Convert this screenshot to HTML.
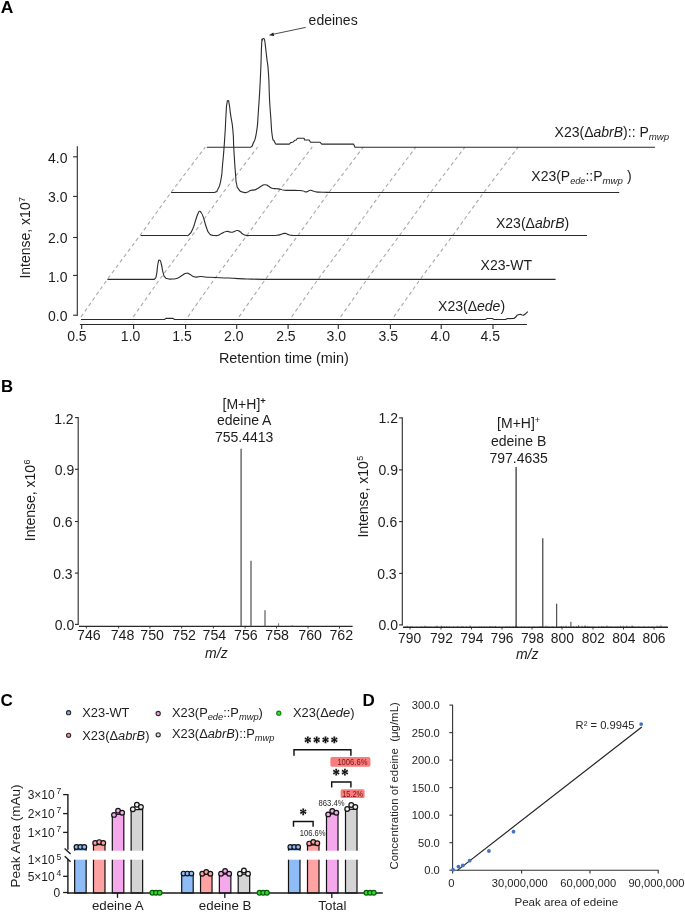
<!DOCTYPE html>
<html><head><meta charset="utf-8"><title>Figure</title>
<style>html,body{margin:0;padding:0;background:#fff}svg{display:block;will-change:transform;opacity:0.999}text{font-family:"Liberation Sans",sans-serif}</style></head>
<body>
<svg width="685" height="912" viewBox="0 0 685 912" font-family="Liberation Sans, sans-serif">
<rect width="100%" height="100%" fill="#fff"/>
<text transform="translate(0.70,13.00) scale(1.09,1)" font-size="16" font-weight="bold" fill="#000">A</text>
<text transform="translate(0.90,392.00) scale(1.05,1)" font-size="16" font-weight="bold" fill="#000">B</text>
<text transform="translate(0.60,705.90) scale(1.0,1)" font-size="17" font-weight="bold" fill="#000">C</text>
<text transform="translate(362.40,705.60) scale(1.05,1)" font-size="16.2" font-weight="bold" fill="#000">D</text>
<line x1="77.30" y1="146.30" x2="77.30" y2="315.70" stroke="#2a2a2a" stroke-width="1.1" />
<line x1="73.10" y1="156.80" x2="77.30" y2="156.80" stroke="#2a2a2a" stroke-width="1.1" />
<text x="67.50" y="163.00" font-size="14" text-anchor="end" fill="#1c1c1c" >4.0</text>
<line x1="73.10" y1="196.40" x2="77.30" y2="196.40" stroke="#2a2a2a" stroke-width="1.1" />
<text x="67.50" y="201.80" font-size="14" text-anchor="end" fill="#1c1c1c" >3.0</text>
<line x1="73.10" y1="237.50" x2="77.30" y2="237.50" stroke="#2a2a2a" stroke-width="1.1" />
<text x="67.50" y="243.20" font-size="14" text-anchor="end" fill="#1c1c1c" >2.0</text>
<line x1="73.10" y1="275.40" x2="77.30" y2="275.40" stroke="#2a2a2a" stroke-width="1.1" />
<text x="67.50" y="281.60" font-size="14" text-anchor="end" fill="#1c1c1c" >1.0</text>
<line x1="73.10" y1="315.20" x2="77.30" y2="315.20" stroke="#2a2a2a" stroke-width="1.1" />
<text x="67.50" y="321.00" font-size="14" text-anchor="end" fill="#1c1c1c" >0.0</text>
<text transform="translate(30.20,278.60) rotate(-90)" font-size="14.0" text-anchor="start" fill="#1c1c1c">Intense, x10<tspan font-size="9" dy="-5" dx="0.4">7</tspan></text>
<line x1="79.90" y1="324.45" x2="527.00" y2="324.45" stroke="#2a2a2a" stroke-width="1.1" />
<line x1="81.70" y1="324.45" x2="81.70" y2="328.95" stroke="#2a2a2a" stroke-width="1.1" />
<text x="76.90" y="341.30" font-size="14" text-anchor="middle" fill="#1c1c1c" >0.5</text>
<line x1="133.60" y1="324.45" x2="133.60" y2="328.95" stroke="#2a2a2a" stroke-width="1.1" />
<text x="130.60" y="341.30" font-size="14" text-anchor="middle" fill="#1c1c1c" >1.0</text>
<line x1="185.60" y1="324.45" x2="185.60" y2="328.95" stroke="#2a2a2a" stroke-width="1.1" />
<text x="182.00" y="341.30" font-size="14" text-anchor="middle" fill="#1c1c1c" >1.5</text>
<line x1="236.70" y1="324.45" x2="236.70" y2="328.95" stroke="#2a2a2a" stroke-width="1.1" />
<text x="233.70" y="341.30" font-size="14" text-anchor="middle" fill="#1c1c1c" >2.0</text>
<line x1="288.10" y1="324.45" x2="288.10" y2="328.95" stroke="#2a2a2a" stroke-width="1.1" />
<text x="285.90" y="341.30" font-size="14" text-anchor="middle" fill="#1c1c1c" >2.5</text>
<line x1="338.30" y1="324.45" x2="338.30" y2="328.95" stroke="#2a2a2a" stroke-width="1.1" />
<text x="336.20" y="341.30" font-size="14" text-anchor="middle" fill="#1c1c1c" >3.0</text>
<line x1="390.40" y1="324.45" x2="390.40" y2="328.95" stroke="#2a2a2a" stroke-width="1.1" />
<text x="388.20" y="341.30" font-size="14" text-anchor="middle" fill="#1c1c1c" >3.5</text>
<line x1="441.20" y1="324.45" x2="441.20" y2="328.95" stroke="#2a2a2a" stroke-width="1.1" />
<text x="440.30" y="341.30" font-size="14" text-anchor="middle" fill="#1c1c1c" >4.0</text>
<line x1="493.00" y1="324.45" x2="493.00" y2="328.95" stroke="#2a2a2a" stroke-width="1.1" />
<text x="490.20" y="341.30" font-size="14" text-anchor="middle" fill="#1c1c1c" >4.5</text>
<text x="283.90" y="362.60" font-size="14.45" text-anchor="middle" fill="#1c1c1c" >Retention time (min)</text>
<path d="M81.00,316.90 L107.30,279.40 L140.20,235.20 L171.00,192.40 L205.30,147.10" fill="none" stroke="#a9a9a9" stroke-width="1.1" stroke-linejoin="round" stroke-dasharray="3.7,3.0"/>
<path d="M133.30,316.90 L159.60,279.40 L192.50,235.20 L223.30,192.40 L257.60,147.10" fill="none" stroke="#a9a9a9" stroke-width="1.1" stroke-linejoin="round" stroke-dasharray="3.7,3.0"/>
<path d="M187.90,316.90 L214.20,279.40 L247.10,235.20 L277.90,192.40 L312.20,147.10" fill="none" stroke="#a9a9a9" stroke-width="1.1" stroke-linejoin="round" stroke-dasharray="3.7,3.0"/>
<path d="M239.00,316.90 L265.30,279.40 L298.20,235.20 L329.00,192.40 L363.30,147.10" fill="none" stroke="#a9a9a9" stroke-width="1.1" stroke-linejoin="round" stroke-dasharray="3.7,3.0"/>
<path d="M291.60,316.90 L317.90,279.40 L350.80,235.20 L381.60,192.40 L415.90,147.10" fill="none" stroke="#a9a9a9" stroke-width="1.1" stroke-linejoin="round" stroke-dasharray="3.7,3.0"/>
<path d="M340.60,316.90 L366.90,279.40 L399.80,235.20 L430.60,192.40 L464.90,147.10" fill="none" stroke="#a9a9a9" stroke-width="1.1" stroke-linejoin="round" stroke-dasharray="3.7,3.0"/>
<path d="M393.80,316.90 L420.10,279.40 L453.00,235.20 L483.80,192.40 L518.10,147.10" fill="none" stroke="#a9a9a9" stroke-width="1.1" stroke-linejoin="round" stroke-dasharray="3.7,3.0"/>
<path d="M81.00,319.50 L81.50,319.50 L82.00,319.50 L82.50,319.50 L83.00,319.50 L83.50,319.50 L84.00,319.50 L84.50,319.50 L85.00,319.50 L85.50,319.50 L86.00,319.50 L86.50,319.50 L87.00,319.50 L87.50,319.50 L88.00,319.50 L88.50,319.50 L89.00,319.50 L89.50,319.50 L90.00,319.50 L90.50,319.50 L91.00,319.50 L91.50,319.50 L92.00,319.50 L92.50,319.50 L93.00,319.50 L93.50,319.50 L94.00,319.50 L94.50,319.50 L95.00,319.50 L95.50,319.50 L96.00,319.50 L96.50,319.50 L97.00,319.50 L97.50,319.50 L98.00,319.50 L98.50,319.50 L99.00,319.50 L99.50,319.50 L100.00,319.50 L100.50,319.50 L101.00,319.50 L101.50,319.50 L102.00,319.50 L102.50,319.50 L103.00,319.50 L103.50,319.50 L104.00,319.50 L104.50,319.50 L105.00,319.50 L105.50,319.50 L106.00,319.50 L106.50,319.50 L107.00,319.50 L107.50,319.50 L108.00,319.50 L108.50,319.50 L109.00,319.50 L109.50,319.50 L110.00,319.50 L110.50,319.50 L111.00,319.50 L111.50,319.50 L112.00,319.50 L112.50,319.50 L113.00,319.50 L113.50,319.50 L114.00,319.50 L114.50,319.50 L115.00,319.50 L115.50,319.50 L116.00,319.50 L116.50,319.50 L117.00,319.50 L117.50,319.50 L118.00,319.50 L118.50,319.50 L119.00,319.50 L119.50,319.50 L120.00,319.50 L120.50,319.50 L121.00,319.50 L121.50,319.50 L122.00,319.50 L122.50,319.50 L123.00,319.50 L123.50,319.50 L124.00,319.50 L124.50,319.50 L125.00,319.50 L125.50,319.50 L126.00,319.50 L126.50,319.50 L127.00,319.50 L127.50,319.50 L128.00,319.50 L128.50,319.50 L129.00,319.50 L129.50,319.50 L130.00,319.50 L130.50,319.50 L131.00,319.50 L131.50,319.50 L132.00,319.50 L132.50,319.50 L133.00,319.50 L133.50,319.50 L134.00,319.50 L134.50,319.50 L135.00,319.50 L135.50,319.50 L136.00,319.50 L136.50,319.50 L137.00,319.50 L137.50,319.50 L138.00,319.50 L138.50,319.50 L139.00,319.50 L139.50,319.50 L140.00,319.50 L140.50,319.50 L141.00,319.50 L141.50,319.50 L142.00,319.50 L142.50,319.50 L143.00,319.50 L143.50,319.50 L144.00,319.50 L144.50,319.50 L145.00,319.50 L145.50,319.50 L146.00,319.50 L146.50,319.50 L147.00,319.50 L147.50,319.50 L148.00,319.50 L148.50,319.50 L149.00,319.50 L149.50,319.50 L150.00,319.50 L150.50,319.50 L151.00,319.50 L151.50,319.50 L152.00,319.50 L152.50,319.50 L153.00,319.50 L153.50,319.50 L154.00,319.50 L154.50,319.50 L155.00,319.50 L155.50,319.50 L156.00,319.50 L156.50,319.50 L157.00,319.50 L157.50,319.50 L158.00,319.50 L158.50,319.50 L159.00,319.50 L159.50,319.50 L160.00,319.50 L160.50,319.50 L161.00,319.50 L161.50,319.50 L162.00,319.50 L162.50,319.50 L163.00,319.50 L163.50,319.50 L164.00,319.50 L164.50,319.50 L165.00,319.12 L165.50,318.73 L166.00,318.35 L166.50,318.35 L167.00,318.35 L167.50,318.35 L168.00,318.35 L168.50,318.35 L169.00,318.35 L169.50,318.35 L170.00,318.35 L170.50,318.35 L171.00,318.35 L171.50,318.35 L172.00,318.35 L172.50,318.35 L173.00,318.35 L173.50,318.73 L174.00,319.12 L174.50,319.50 L175.00,319.50 L175.50,319.50 L176.00,319.50 L176.50,319.50 L177.00,319.50 L177.50,319.50 L178.00,319.50 L178.50,319.50 L179.00,319.50 L179.50,319.50 L180.00,319.50 L180.50,319.50 L181.00,319.50 L181.50,319.50 L182.00,319.50 L182.50,319.50 L183.00,319.50 L183.50,319.50 L184.00,319.50 L184.50,319.50 L185.00,319.50 L185.50,319.50 L186.00,319.50 L186.50,319.50 L187.00,319.50 L187.50,319.50 L188.00,319.50 L188.50,319.50 L189.00,319.50 L189.50,319.50 L190.00,319.50 L190.50,319.50 L191.00,319.50 L191.50,319.50 L192.00,319.50 L192.50,319.50 L193.00,319.50 L193.50,319.50 L194.00,319.50 L194.50,319.50 L195.00,319.50 L195.50,319.50 L196.00,319.50 L196.50,319.50 L197.00,319.50 L197.50,319.50 L198.00,319.50 L198.50,319.50 L199.00,319.50 L199.50,319.50 L200.00,319.50 L200.50,319.50 L201.00,319.50 L201.50,319.50 L202.00,319.50 L202.50,319.50 L203.00,319.50 L203.50,319.50 L204.00,319.50 L204.50,319.50 L205.00,319.50 L205.50,319.50 L206.00,319.50 L206.50,319.50 L207.00,319.50 L207.50,319.50 L208.00,319.50 L208.50,319.50 L209.00,319.50 L209.50,319.50 L210.00,319.50 L210.50,319.50 L211.00,319.50 L211.50,319.50 L212.00,319.50 L212.50,319.50 L213.00,319.50 L213.50,319.50 L214.00,319.50 L214.50,319.50 L215.00,319.50 L215.50,319.50 L216.00,319.50 L216.50,319.50 L217.00,319.50 L217.50,319.50 L218.00,319.50 L218.50,319.50 L219.00,319.50 L219.50,319.50 L220.00,319.50 L220.50,319.50 L221.00,319.50 L221.50,319.50 L222.00,319.50 L222.50,319.50 L223.00,319.50 L223.50,319.50 L224.00,319.50 L224.50,319.50 L225.00,319.50 L225.50,319.50 L226.00,319.50 L226.50,319.50 L227.00,319.50 L227.50,319.50 L228.00,319.50 L228.50,319.50 L229.00,319.50 L229.50,319.50 L230.00,319.50 L230.50,319.50 L231.00,319.50 L231.50,319.50 L232.00,319.50 L232.50,319.50 L233.00,319.50 L233.50,319.50 L234.00,319.50 L234.50,319.50 L235.00,319.50 L235.50,319.50 L236.00,319.50 L236.50,319.50 L237.00,319.50 L237.50,319.50 L238.00,319.50 L238.50,319.50 L239.00,319.50 L239.50,319.50 L240.00,319.50 L240.50,319.50 L241.00,319.50 L241.50,319.50 L242.00,319.50 L242.50,319.50 L243.00,319.50 L243.50,319.50 L244.00,319.50 L244.50,319.50 L245.00,319.50 L245.50,319.50 L246.00,319.50 L246.50,319.50 L247.00,319.50 L247.50,319.50 L248.00,319.50 L248.50,319.50 L249.00,319.50 L249.50,319.50 L250.00,319.50 L250.50,319.50 L251.00,319.50 L251.50,319.50 L252.00,319.50 L252.50,319.50 L253.00,319.50 L253.50,319.50 L254.00,319.50 L254.50,319.50 L255.00,319.50 L255.50,319.50 L256.00,319.50 L256.50,319.50 L257.00,319.50 L257.50,319.50 L258.00,319.50 L258.50,319.50 L259.00,319.50 L259.50,319.50 L260.00,319.50 L260.50,319.50 L261.00,319.50 L261.50,319.50 L262.00,319.50 L262.50,319.50 L263.00,319.50 L263.50,319.50 L264.00,319.50 L264.50,319.50 L265.00,319.50 L265.50,319.50 L266.00,319.50 L266.50,319.50 L267.00,319.50 L267.50,319.50 L268.00,319.50 L268.50,319.50 L269.00,319.50 L269.50,319.50 L270.00,319.50 L270.50,319.50 L271.00,319.50 L271.50,319.50 L272.00,319.50 L272.50,319.50 L273.00,319.50 L273.50,319.50 L274.00,319.50 L274.50,319.50 L275.00,319.50 L275.50,319.50 L276.00,319.50 L276.50,319.50 L277.00,319.50 L277.50,319.50 L278.00,319.50 L278.50,319.50 L279.00,319.50 L279.50,319.50 L280.00,319.50 L280.50,319.50 L281.00,319.50 L281.50,319.50 L282.00,319.50 L282.50,319.50 L283.00,319.50 L283.50,319.50 L284.00,319.50 L284.50,319.50 L285.00,319.50 L285.50,319.50 L286.00,319.50 L286.50,319.50 L287.00,319.50 L287.50,319.50 L288.00,319.50 L288.50,319.50 L289.00,319.50 L289.50,319.50 L290.00,319.50 L290.50,319.50 L291.00,319.50 L291.50,319.50 L292.00,319.50 L292.50,319.50 L293.00,319.50 L293.50,319.50 L294.00,319.50 L294.50,319.50 L295.00,319.50 L295.50,319.50 L296.00,319.50 L296.50,319.50 L297.00,319.50 L297.50,319.50 L298.00,319.50 L298.50,319.50 L299.00,319.50 L299.50,319.50 L300.00,319.50 L300.50,319.50 L301.00,319.50 L301.50,319.50 L302.00,319.50 L302.50,319.50 L303.00,319.50 L303.50,319.50 L304.00,319.50 L304.50,319.50 L305.00,319.50 L305.50,319.50 L306.00,319.50 L306.50,319.50 L307.00,319.50 L307.50,319.50 L308.00,319.50 L308.50,319.50 L309.00,319.50 L309.50,319.50 L310.00,319.50 L310.50,319.50 L311.00,319.50 L311.50,319.50 L312.00,319.50 L312.50,319.50 L313.00,319.50 L313.50,319.50 L314.00,319.50 L314.50,319.50 L315.00,319.50 L315.50,319.50 L316.00,319.50 L316.50,319.50 L317.00,319.50 L317.50,319.50 L318.00,319.50 L318.50,319.50 L319.00,319.50 L319.50,319.50 L320.00,319.50 L320.50,319.50 L321.00,319.50 L321.50,319.50 L322.00,319.50 L322.50,319.50 L323.00,319.50 L323.50,319.50 L324.00,319.50 L324.50,319.50 L325.00,319.50 L325.50,319.50 L326.00,319.50 L326.50,319.50 L327.00,319.50 L327.50,319.50 L328.00,319.50 L328.50,319.50 L329.00,319.50 L329.50,319.50 L330.00,319.50 L330.50,319.50 L331.00,319.50 L331.50,319.50 L332.00,319.50 L332.50,319.50 L333.00,319.50 L333.50,319.50 L334.00,319.50 L334.50,319.50 L335.00,319.50 L335.50,319.50 L336.00,319.50 L336.50,319.50 L337.00,319.50 L337.50,319.50 L338.00,319.50 L338.50,319.50 L339.00,319.50 L339.50,319.50 L340.00,319.50 L340.50,319.50 L341.00,319.50 L341.50,319.50 L342.00,319.50 L342.50,319.50 L343.00,319.50 L343.50,319.50 L344.00,319.50 L344.50,319.50 L345.00,319.50 L345.50,319.50 L346.00,319.50 L346.50,319.50 L347.00,319.50 L347.50,319.50 L348.00,319.50 L348.50,319.50 L349.00,319.50 L349.50,319.50 L350.00,319.50 L350.50,319.50 L351.00,319.50 L351.50,319.50 L352.00,319.50 L352.50,319.50 L353.00,319.50 L353.50,319.50 L354.00,319.50 L354.50,319.50 L355.00,319.50 L355.50,319.50 L356.00,319.50 L356.50,319.50 L357.00,319.50 L357.50,319.50 L358.00,319.50 L358.50,319.50 L359.00,319.50 L359.50,319.50 L360.00,319.50 L360.50,319.50 L361.00,319.50 L361.50,319.50 L362.00,319.50 L362.50,319.50 L363.00,319.50 L363.50,319.50 L364.00,319.50 L364.50,319.50 L365.00,319.50 L365.50,319.50 L366.00,319.50 L366.50,319.50 L367.00,319.50 L367.50,319.50 L368.00,319.50 L368.50,319.50 L369.00,319.50 L369.50,319.50 L370.00,319.50 L370.50,319.50 L371.00,319.50 L371.50,319.50 L372.00,319.50 L372.50,319.50 L373.00,319.50 L373.50,319.50 L374.00,319.50 L374.50,319.50 L375.00,319.50 L375.50,319.50 L376.00,319.50 L376.50,319.50 L377.00,319.50 L377.50,319.50 L378.00,319.50 L378.50,319.50 L379.00,319.50 L379.50,319.50 L380.00,319.50 L380.50,319.50 L381.00,319.50 L381.50,319.50 L382.00,319.50 L382.50,319.50 L383.00,319.50 L383.50,319.50 L384.00,319.50 L384.50,319.50 L385.00,319.50 L385.50,319.50 L386.00,319.50 L386.50,319.50 L387.00,319.50 L387.50,319.50 L388.00,319.50 L388.50,319.50 L389.00,319.50 L389.50,319.50 L390.00,319.50 L390.50,319.50 L391.00,319.50 L391.50,319.50 L392.00,319.50 L392.50,319.50 L393.00,319.50 L393.50,319.50 L394.00,319.50 L394.50,319.50 L395.00,319.50 L395.50,319.50 L396.00,319.50 L396.50,319.50 L397.00,319.50 L397.50,319.50 L398.00,319.50 L398.50,319.50 L399.00,319.50 L399.50,319.50 L400.00,319.50 L400.50,319.50 L401.00,319.50 L401.50,319.50 L402.00,319.50 L402.50,319.50 L403.00,319.50 L403.50,319.50 L404.00,319.50 L404.50,319.50 L405.00,319.50 L405.50,319.50 L406.00,319.50 L406.50,319.50 L407.00,319.50 L407.50,319.50 L408.00,319.50 L408.50,319.50 L409.00,319.50 L409.50,319.50 L410.00,319.50 L410.50,319.50 L411.00,319.50 L411.50,319.50 L412.00,319.50 L412.50,319.50 L413.00,319.50 L413.50,319.50 L414.00,319.50 L414.50,319.50 L415.00,319.50 L415.50,319.50 L416.00,319.50 L416.50,319.50 L417.00,319.50 L417.50,319.50 L418.00,319.50 L418.50,319.50 L419.00,319.50 L419.50,319.50 L420.00,319.50 L420.50,319.50 L421.00,319.50 L421.50,319.50 L422.00,319.50 L422.50,319.50 L423.00,319.50 L423.50,319.50 L424.00,319.50 L424.50,319.50 L425.00,319.50 L425.50,319.50 L426.00,319.50 L426.50,319.50 L427.00,319.50 L427.50,319.50 L428.00,319.50 L428.50,319.50 L429.00,319.50 L429.50,319.50 L430.00,319.50 L430.50,319.50 L431.00,319.50 L431.50,319.50 L432.00,319.50 L432.50,319.50 L433.00,319.50 L433.50,319.50 L434.00,319.50 L434.50,319.50 L435.00,319.50 L435.50,319.50 L436.00,319.50 L436.50,319.50 L437.00,319.50 L437.50,319.50 L438.00,319.50 L438.50,319.50 L439.00,319.50 L439.50,319.50 L440.00,319.50 L440.50,319.50 L441.00,319.50 L441.50,319.50 L442.00,319.50 L442.50,319.50 L443.00,319.50 L443.50,319.50 L444.00,319.50 L444.50,319.50 L445.00,319.50 L445.50,319.50 L446.00,319.50 L446.50,319.50 L447.00,319.50 L447.50,319.50 L448.00,319.50 L448.50,319.50 L449.00,319.50 L449.50,319.50 L450.00,319.50 L450.50,319.50 L451.00,319.50 L451.50,319.50 L452.00,319.50 L452.50,319.50 L453.00,319.50 L453.50,319.50 L454.00,319.50 L454.50,319.50 L455.00,319.50 L455.50,319.50 L456.00,319.50 L456.50,319.50 L457.00,319.50 L457.50,319.50 L458.00,319.50 L458.50,319.50 L459.00,319.50 L459.50,319.50 L460.00,319.50 L460.50,319.50 L461.00,319.50 L461.50,319.50 L462.00,319.50 L462.50,319.50 L463.00,319.50 L463.50,319.50 L464.00,319.50 L464.50,319.50 L465.00,319.50 L465.50,319.50 L466.00,319.50 L466.50,319.50 L467.00,319.50 L467.50,319.50 L468.00,319.50 L468.50,319.50 L469.00,319.50 L469.50,319.50 L470.00,319.50 L470.50,319.50 L471.00,319.50 L471.50,319.50 L472.00,319.50 L472.50,319.50 L473.00,319.50 L473.50,319.50 L474.00,319.50 L474.50,319.50 L475.00,319.50 L475.50,319.50 L476.00,319.50 L476.50,319.50 L477.00,319.50 L477.50,319.50 L478.00,319.50 L478.50,319.50 L479.00,319.50 L479.50,319.50 L480.00,319.50 L480.50,319.50 L481.00,319.50 L481.50,319.50 L482.00,319.50 L482.50,319.50 L483.00,319.50 L483.50,319.50 L484.00,319.50 L484.50,319.50 L485.00,319.50 L485.50,319.50 L486.00,319.33 L486.50,318.92 L487.00,318.50 L487.50,318.50 L488.00,318.50 L488.50,318.50 L489.00,318.50 L489.50,318.50 L490.00,318.50 L490.50,318.50 L491.00,318.50 L491.50,318.50 L492.00,318.50 L492.50,318.50 L493.00,318.88 L493.50,319.27 L494.00,319.50 L494.50,319.50 L495.00,319.50 L495.50,319.50 L496.00,319.50 L496.50,319.50 L497.00,319.50 L497.50,319.50 L498.00,319.50 L498.50,319.50 L499.00,319.50 L499.50,319.50 L500.00,319.50 L500.50,319.50 L501.00,319.50 L501.50,319.50 L502.00,319.50 L502.50,319.50 L503.00,319.50 L503.50,319.50 L504.00,319.50 L504.50,319.50 L505.00,319.50 L505.80,319.50 L507.00,318.60 L514.00,318.50 L515.50,317.30 L517.00,315.30 L518.50,314.70 L520.50,314.30 L522.00,315.00 L523.50,315.30 L525.00,314.30 L526.50,312.90 L527.80,311.70" fill="none" stroke="#2a2a2a" stroke-width="1.1" stroke-linejoin="round" />
<path d="M107.40,279.40 L153.20,279.40 L153.20,279.40 C153.87,279.07 154.07,280.13 155.20,278.40 C156.33,276.67 155.67,279.17 156.60,274.20 C157.53,269.23 157.00,268.13 158.00,263.50 C159.00,258.87 158.50,260.13 159.60,260.30 C160.70,260.47 160.10,259.70 161.30,264.00 C162.50,268.30 161.90,268.73 163.20,273.20 C164.50,277.67 163.60,275.57 165.20,277.40 C166.80,279.23 165.73,278.17 168.00,278.70 C170.27,279.23 168.87,279.17 172.00,279.00 C175.13,278.83 174.07,279.40 177.40,278.20 C180.73,277.00 178.93,277.07 182.00,275.40 C185.07,273.73 183.87,273.47 186.60,273.20 C189.33,272.93 187.43,273.33 190.20,274.60 C192.97,275.87 191.40,276.37 194.90,277.00 C198.40,277.63 195.63,276.40 200.70,276.50 C205.77,276.60 200.73,276.80 210.10,277.30 C219.47,277.80 219.47,277.57 228.80,278.00 C238.13,278.43 230.33,278.23 238.10,278.60 C245.87,278.97 242.77,278.83 252.10,279.10 C261.43,279.37 261.43,279.30 266.10,279.40 L266.10,279.40 L555.60,279.40" fill="none" stroke="#2a2a2a" stroke-width="1.1" stroke-linejoin="round" stroke-linecap="butt"/>
<path d="M140.80,235.50 L186.50,235.50 L186.50,235.50 C187.33,235.20 186.97,236.70 189.00,234.60 C191.03,232.50 190.23,234.50 192.60,229.20 C194.97,223.90 194.23,224.03 196.10,218.70 C197.97,213.37 197.03,215.67 198.20,213.20 C199.37,210.73 198.60,211.43 199.60,211.30 C200.60,211.17 200.03,211.03 201.20,212.80 C202.37,214.57 201.30,211.53 203.10,216.60 C204.90,221.67 204.63,222.53 206.60,228.00 C208.57,233.47 207.37,230.67 209.00,233.00 C210.63,235.33 209.50,234.17 211.50,235.00 C213.50,235.83 212.67,235.43 215.00,235.50 C217.33,235.57 216.23,235.93 218.50,235.20 C220.77,234.47 219.17,234.53 221.80,233.30 C224.43,232.07 223.83,231.97 226.40,231.50 C228.97,231.03 227.53,231.67 229.50,231.90 C231.47,232.13 230.47,232.43 232.30,232.20 C234.13,231.97 233.23,231.77 235.00,231.20 C236.77,230.63 235.87,230.30 237.60,230.50 C239.33,230.70 238.47,230.63 240.20,231.80 C241.93,232.97 240.77,232.80 242.80,234.00 C244.83,235.20 243.90,234.90 246.30,235.40 C248.70,235.90 248.77,235.47 250.00,235.50 L250.00,235.50 L275.50,235.50 L275.50,235.50 C277.07,235.20 277.23,235.30 280.20,234.60 C283.17,233.90 282.13,233.60 284.40,233.40 C286.67,233.20 285.30,233.47 287.00,234.00 C288.70,234.53 287.50,234.50 289.50,235.00 C291.50,235.50 291.83,235.33 293.00,235.50 L293.00,235.50 L587.00,235.50" fill="none" stroke="#2a2a2a" stroke-width="1.1" stroke-linejoin="round" stroke-linecap="butt"/>
<path d="M171.10,192.50 L213.80,192.50 L213.80,192.50 C214.53,192.27 214.70,192.77 216.00,191.80 C217.30,190.83 216.10,193.40 217.70,189.60 C219.30,185.80 219.13,189.17 220.80,180.40 C222.47,171.63 221.40,177.30 222.70,163.30 C224.00,149.30 223.60,154.60 224.70,138.40 C225.80,122.20 225.30,126.03 226.00,114.70 C226.70,103.37 226.13,109.00 226.80,104.40 C227.47,99.80 227.20,101.03 228.00,100.90 C228.80,100.77 228.33,99.40 229.20,104.00 C230.07,108.60 229.37,105.87 230.60,114.70 C231.83,123.53 231.80,118.67 232.90,130.50 C234.00,142.33 233.03,135.77 233.90,150.20 C234.77,164.63 234.60,162.53 235.50,173.80 C236.40,185.07 235.60,178.97 236.60,184.00 C237.60,189.03 236.57,186.20 238.50,188.90 C240.43,191.60 239.33,191.07 242.40,192.10 C245.47,193.13 245.07,192.57 247.70,192.00 C250.33,191.43 248.10,191.10 250.30,190.40 C252.50,189.70 251.87,190.50 254.30,189.90 C256.73,189.30 255.20,189.93 257.60,188.60 C260.00,187.27 258.90,187.20 261.50,185.90 C264.10,184.60 263.00,184.57 265.40,184.70 C267.80,184.83 266.50,185.13 268.70,186.30 C270.90,187.47 269.37,187.40 272.00,188.20 C274.63,189.00 273.77,188.33 276.60,188.70 C279.43,189.07 277.87,188.80 280.50,189.30 C283.13,189.80 279.67,189.83 284.50,190.20 C289.33,190.57 289.13,190.23 295.00,190.40 C300.87,190.57 298.57,190.20 302.10,190.70 C305.63,191.20 303.63,191.73 305.60,191.90 C307.57,192.07 306.43,191.73 308.00,191.20 C309.57,190.67 308.63,190.37 310.30,190.30 C311.97,190.23 311.07,190.47 313.00,191.00 C314.93,191.53 313.10,191.50 316.10,191.90 C319.10,192.30 317.30,192.00 322.00,192.20 C326.70,192.40 327.47,192.40 330.20,192.50 L330.20,192.50 L619.20,192.50" fill="none" stroke="#2a2a2a" stroke-width="1.1" stroke-linejoin="round" stroke-linecap="butt"/>
<path d="M206.80,147.30 L250.40,147.30 L250.40,147.30 C250.87,146.97 250.93,147.50 251.80,146.30 C252.67,145.10 251.47,148.23 253.00,143.70 C254.53,139.17 254.57,144.10 256.40,132.70 C258.23,121.30 257.13,128.67 258.50,109.50 C259.87,90.33 259.47,96.67 260.50,75.20 C261.53,53.73 260.97,56.77 261.60,45.10 C262.23,33.43 261.73,42.40 262.40,40.20 C263.07,38.00 262.87,38.43 263.60,38.50 C264.33,38.57 264.03,38.20 264.60,40.40 C265.17,42.60 264.60,39.43 265.30,45.10 C266.00,50.77 265.63,47.83 266.70,57.40 C267.77,66.97 267.57,60.10 268.50,73.80 C269.43,87.50 268.73,83.87 269.50,98.50 C270.27,113.13 269.90,105.37 270.80,117.70 C271.70,130.03 271.07,127.73 272.20,135.50 C273.33,143.27 273.00,138.13 274.20,141.00 C275.40,143.87 275.27,143.07 275.80,144.10 L275.80,144.10 L289.30,144.10 L290.70,142.60 L292.60,142.30 L294.80,140.30 L296.20,140.00 L297.50,138.20 L304.10,138.20 L304.50,140.00 L309.20,140.00 L310.50,142.30 L320.10,142.30 L321.80,144.10 L353.60,144.10 L355.00,147.30 L655.10,147.30" fill="none" stroke="#2a2a2a" stroke-width="1.1" stroke-linejoin="round" stroke-linecap="butt"/>
<line x1="305.70" y1="27.40" x2="272.50" y2="34.40" stroke="#2a2a2a" stroke-width="0.85" />
<path d="M268.9,35.25 L273.3,32.4 L274.1,36.1 Z" fill="#1c1c1c"/>
<text x="308.60" y="25.10" font-size="14" text-anchor="start" fill="#1c1c1c" >edeines</text>
<text x="554.60" y="137.00" font-size="14" text-anchor="start" fill="#1c1c1c" >X23(&#916;<tspan font-style="italic">abrB</tspan>):: P<tspan font-style="italic" font-size="9.7" dy="3.4">mwp</tspan></text>
<text x="531.30" y="180.60" font-size="14" text-anchor="start" fill="#1c1c1c" >X23(P<tspan font-style="italic" font-size="9.1" dy="3.4">ede</tspan><tspan dy="-3.4">::P</tspan><tspan font-style="italic" font-size="9.7" dy="3.4">mwp</tspan><tspan dy="-3.4"> )</tspan></text>
<text x="496.00" y="228.20" font-size="14" text-anchor="start" fill="#1c1c1c" >X23(&#916;<tspan font-style="italic">abrB</tspan>)</text>
<text x="480.60" y="270.10" font-size="14" text-anchor="start" fill="#1c1c1c" >X23-WT</text>
<text x="438.10" y="310.80" font-size="14" text-anchor="start" fill="#1c1c1c" >X23(&#916;<tspan font-style="italic">ede</tspan>)</text>
<line x1="78.20" y1="417.10" x2="78.20" y2="624.90" stroke="#2a2a2a" stroke-width="1.1" />
<line x1="79.00" y1="626.30" x2="352.60" y2="626.30" stroke="#2a2a2a" stroke-width="1.2" />
<line x1="75.00" y1="417.60" x2="78.20" y2="417.60" stroke="#2a2a2a" stroke-width="1.1" />
<text x="73.60" y="423.50" font-size="14" text-anchor="end" fill="#1c1c1c" >1.2</text>
<line x1="75.00" y1="469.30" x2="78.20" y2="469.30" stroke="#2a2a2a" stroke-width="1.1" />
<text x="74.20" y="475.20" font-size="14" text-anchor="end" fill="#1c1c1c" >0.9</text>
<line x1="75.00" y1="521.50" x2="78.20" y2="521.50" stroke="#2a2a2a" stroke-width="1.1" />
<text x="72.50" y="527.40" font-size="14" text-anchor="end" fill="#1c1c1c" >0.6</text>
<line x1="75.00" y1="573.10" x2="78.20" y2="573.10" stroke="#2a2a2a" stroke-width="1.1" />
<text x="72.60" y="579.00" font-size="14" text-anchor="end" fill="#1c1c1c" >0.3</text>
<line x1="75.00" y1="624.40" x2="78.20" y2="624.40" stroke="#2a2a2a" stroke-width="1.1" />
<text x="74.20" y="630.30" font-size="14" text-anchor="end" fill="#1c1c1c" >0.0</text>
<text transform="translate(35.00,541.20) rotate(-90)" font-size="14.03" text-anchor="start" fill="#1c1c1c">Intense, x10<tspan font-size="9" dy="-5" dx="0.4">6</tspan></text>
<text x="88.90" y="640.20" font-size="14.2" text-anchor="middle" fill="#1c1c1c" >746</text>
<text x="122.50" y="640.20" font-size="14.2" text-anchor="middle" fill="#1c1c1c" >748</text>
<text x="152.10" y="640.20" font-size="14.2" text-anchor="middle" fill="#1c1c1c" >750</text>
<text x="184.10" y="640.20" font-size="14.2" text-anchor="middle" fill="#1c1c1c" >752</text>
<text x="214.40" y="640.20" font-size="14.2" text-anchor="middle" fill="#1c1c1c" >754</text>
<text x="245.90" y="640.20" font-size="14.2" text-anchor="middle" fill="#1c1c1c" >756</text>
<text x="277.10" y="640.20" font-size="14.2" text-anchor="middle" fill="#1c1c1c" >758</text>
<text x="310.10" y="640.20" font-size="14.2" text-anchor="middle" fill="#1c1c1c" >760</text>
<text x="341.30" y="640.20" font-size="14.2" text-anchor="middle" fill="#1c1c1c" >762</text>
<line x1="86.40" y1="626.30" x2="86.40" y2="628.50" stroke="#2a2a2a" stroke-width="0.9" />
<line x1="118.60" y1="626.30" x2="118.60" y2="628.50" stroke="#2a2a2a" stroke-width="0.9" />
<line x1="149.90" y1="626.30" x2="149.90" y2="628.50" stroke="#2a2a2a" stroke-width="0.9" />
<line x1="181.70" y1="626.30" x2="181.70" y2="628.50" stroke="#2a2a2a" stroke-width="0.9" />
<line x1="213.40" y1="626.30" x2="213.40" y2="628.50" stroke="#2a2a2a" stroke-width="0.9" />
<line x1="245.10" y1="626.30" x2="245.10" y2="628.50" stroke="#2a2a2a" stroke-width="0.9" />
<line x1="276.50" y1="626.30" x2="276.50" y2="628.50" stroke="#2a2a2a" stroke-width="0.9" />
<line x1="308.00" y1="626.30" x2="308.00" y2="628.50" stroke="#2a2a2a" stroke-width="0.9" />
<line x1="339.50" y1="626.30" x2="339.50" y2="628.50" stroke="#2a2a2a" stroke-width="0.9" />
<line x1="241.10" y1="448.70" x2="241.10" y2="626.30" stroke="#5c5c5c" stroke-width="1.35" />
<line x1="251.00" y1="560.80" x2="251.00" y2="626.30" stroke="#5c5c5c" stroke-width="1.3" />
<line x1="265.00" y1="610.20" x2="265.00" y2="626.30" stroke="#5c5c5c" stroke-width="1.2" />
<line x1="278.60" y1="623.30" x2="278.60" y2="626.30" stroke="#5c5c5c" stroke-width="0.9" />
<line x1="292.30" y1="625.00" x2="292.30" y2="626.30" stroke="#5c5c5c" stroke-width="0.8" />
<text x="244.20" y="409.00" font-size="14" text-anchor="middle" fill="#1c1c1c" >[M+H]<tspan font-size="9.5" dy="-5" font-weight="bold">+</tspan></text>
<text x="244.20" y="424.90" font-size="14" text-anchor="middle" fill="#1c1c1c" >edeine A</text>
<text x="244.20" y="441.70" font-size="14" text-anchor="middle" fill="#1c1c1c" >755.4413</text>
<text x="216.40" y="658.20" font-size="14" text-anchor="middle" fill="#1c1c1c" font-style="italic">m/z</text>
<line x1="402.30" y1="417.40" x2="402.30" y2="625.40" stroke="#2a2a2a" stroke-width="1.1" />
<line x1="403.10" y1="627.30" x2="667.80" y2="627.30" stroke="#2a2a2a" stroke-width="1.2" />
<line x1="399.10" y1="417.90" x2="402.30" y2="417.90" stroke="#2a2a2a" stroke-width="1.1" />
<text x="398.00" y="423.00" font-size="14" text-anchor="end" fill="#1c1c1c" >1.2</text>
<line x1="399.10" y1="469.90" x2="402.30" y2="469.90" stroke="#2a2a2a" stroke-width="1.1" />
<text x="398.00" y="475.40" font-size="14" text-anchor="end" fill="#1c1c1c" >0.9</text>
<line x1="399.10" y1="521.60" x2="402.30" y2="521.60" stroke="#2a2a2a" stroke-width="1.1" />
<text x="397.20" y="527.10" font-size="14" text-anchor="end" fill="#1c1c1c" >0.6</text>
<line x1="399.10" y1="573.40" x2="402.30" y2="573.40" stroke="#2a2a2a" stroke-width="1.1" />
<text x="396.60" y="579.30" font-size="14" text-anchor="end" fill="#1c1c1c" >0.3</text>
<line x1="399.10" y1="624.90" x2="402.30" y2="624.90" stroke="#2a2a2a" stroke-width="1.1" />
<text x="398.00" y="630.40" font-size="14" text-anchor="end" fill="#1c1c1c" >0.0</text>
<text transform="translate(368.40,537.60) rotate(-90)" font-size="14.03" text-anchor="start" fill="#1c1c1c">Intense, x10<tspan font-size="9" dy="-5" dx="0.4">5</tspan></text>
<text x="409.60" y="643.10" font-size="13.8" text-anchor="middle" fill="#1c1c1c" >790</text>
<text x="441.40" y="643.10" font-size="13.8" text-anchor="middle" fill="#1c1c1c" >792</text>
<text x="471.80" y="643.10" font-size="13.8" text-anchor="middle" fill="#1c1c1c" >794</text>
<text x="502.00" y="643.10" font-size="13.8" text-anchor="middle" fill="#1c1c1c" >796</text>
<text x="532.40" y="643.10" font-size="13.8" text-anchor="middle" fill="#1c1c1c" >798</text>
<text x="562.30" y="643.10" font-size="13.8" text-anchor="middle" fill="#1c1c1c" >800</text>
<text x="593.30" y="643.10" font-size="13.8" text-anchor="middle" fill="#1c1c1c" >802</text>
<text x="623.80" y="643.10" font-size="13.8" text-anchor="middle" fill="#1c1c1c" >804</text>
<text x="654.00" y="643.10" font-size="13.8" text-anchor="middle" fill="#1c1c1c" >806</text>
<line x1="410.00" y1="627.30" x2="410.00" y2="629.50" stroke="#2a2a2a" stroke-width="0.9" />
<line x1="441.00" y1="627.30" x2="441.00" y2="629.50" stroke="#2a2a2a" stroke-width="0.9" />
<line x1="471.50" y1="627.30" x2="471.50" y2="629.50" stroke="#2a2a2a" stroke-width="0.9" />
<line x1="502.00" y1="627.30" x2="502.00" y2="629.50" stroke="#2a2a2a" stroke-width="0.9" />
<line x1="532.00" y1="627.30" x2="532.00" y2="629.50" stroke="#2a2a2a" stroke-width="0.9" />
<line x1="562.00" y1="627.30" x2="562.00" y2="629.50" stroke="#2a2a2a" stroke-width="0.9" />
<line x1="593.00" y1="627.30" x2="593.00" y2="629.50" stroke="#2a2a2a" stroke-width="0.9" />
<line x1="623.50" y1="627.30" x2="623.50" y2="629.50" stroke="#2a2a2a" stroke-width="0.9" />
<line x1="654.00" y1="627.30" x2="654.00" y2="629.50" stroke="#2a2a2a" stroke-width="0.9" />
<line x1="516.10" y1="467.00" x2="516.10" y2="627.30" stroke="#2c2c2c" stroke-width="1.2" />
<line x1="542.80" y1="538.20" x2="542.80" y2="627.30" stroke="#2c2c2c" stroke-width="1.1" />
<line x1="556.70" y1="603.70" x2="556.70" y2="627.30" stroke="#2c2c2c" stroke-width="1.0" />
<line x1="570.90" y1="621.80" x2="570.90" y2="627.30" stroke="#2c2c2c" stroke-width="0.9" />
<text x="518.60" y="427.70" font-size="14" text-anchor="middle" fill="#1c1c1c" >[M+H]<tspan font-size="9" dy="-5">+</tspan></text>
<text x="518.60" y="445.60" font-size="14" text-anchor="middle" fill="#1c1c1c" >edeine B</text>
<text x="518.60" y="462.80" font-size="14" text-anchor="middle" fill="#1c1c1c" >797.4635</text>
<text x="527.20" y="658.90" font-size="14" text-anchor="middle" fill="#1c1c1c" font-style="italic">m/z</text>
<path d="M405.0,626.90 v-0.50 M407.2,626.90 v-1.20 M409.1,626.90 v-0.30 M410.7,626.90 v-0.60 M412.3,626.90 v-0.50 M416.5,626.90 v-0.30 M420.7,626.90 v-0.40 M422.3,626.90 v-0.50 M424.9,626.90 v-1.20 M426.5,626.90 v-0.40 M428.1,626.90 v-0.60 M430.7,626.90 v-0.30 M434.9,626.90 v-0.50 M437.1,626.90 v-0.30 M441.3,626.90 v-1.20 M442.9,626.90 v-0.40 M444.5,626.90 v-0.60 M446.7,626.90 v-0.90 M449.3,626.90 v-0.70 M453.5,626.90 v-0.50 M457.7,626.90 v-0.90 M461.9,626.90 v-0.70 M463.5,626.90 v-0.40 M466.5,626.90 v-0.50 M470.7,626.90 v-0.50 M474.9,626.90 v-0.30 M479.1,626.90 v-0.40 M481.7,626.90 v-0.60 M484.3,626.90 v-0.50 M486.9,626.90 v-0.30 M489.9,626.90 v-0.90 M492.1,626.90 v-0.70 M494.0,626.90 v-0.40 M495.6,626.90 v-0.90 M499.8,626.90 v-0.30 M502.8,626.90 v-0.30 M505.8,626.90 v-0.50 M507.4,626.90 v-0.60 M510.0,626.90 v-0.70 M513.0,626.90 v-0.70 M515.6,626.90 v-1.20 M517.2,626.90 v-0.50 M521.4,626.90 v-0.50 M524.4,626.90 v-0.50 M528.6,626.90 v-0.30 M532.8,626.90 v-0.30 M534.4,626.90 v-0.50 M537.4,626.90 v-0.30 M539.3,626.90 v-0.50 M540.9,626.90 v-0.90 M542.8,626.90 v-0.30 M545.8,626.90 v-1.20 M547.7,626.90 v-0.50 M549.3,626.90 v-0.30 M552.3,626.90 v-0.70 M556.5,626.90 v-0.50 M559.1,626.90 v-0.30 M561.3,626.90 v-0.90 M563.5,626.90 v-0.40 M566.1,626.90 v-1.20 M568.7,626.90 v-0.50 M570.9,626.90 v-0.30 M573.5,626.90 v-0.60 M576.5,626.90 v-0.70 M579.1,626.90 v-0.60 M582.1,626.90 v-1.20 M585.1,626.90 v-1.20 M587.3,626.90 v-0.70 M588.9,626.90 v-0.70 M591.1,626.90 v-0.40 M593.0,626.90 v-0.40 M594.6,626.90 v-0.30 M598.8,626.90 v-0.70 M601.8,626.90 v-0.90 M603.4,626.90 v-0.70 M606.0,626.90 v-0.60 M609.0,626.90 v-0.50 M611.2,626.90 v-0.60 M615.4,626.90 v-0.30 M618.0,626.90 v-0.60 M620.6,626.90 v-1.20 M623.2,626.90 v-1.20 M624.8,626.90 v-0.30 M626.7,626.90 v-1.20 M628.3,626.90 v-0.40 M629.9,626.90 v-0.40 M632.5,626.90 v-0.70 M634.1,626.90 v-0.50 M638.3,626.90 v-0.30 M639.9,626.90 v-0.30 M644.1,626.90 v-0.70 M648.3,626.90 v-0.50 M651.3,626.90 v-0.30 M652.9,626.90 v-0.40 M657.1,626.90 v-1.20 M659.3,626.90 v-0.90 M662.3,626.90 v-0.50 M664.9,626.90 v-0.50 M666.5,626.90 v-0.30" stroke="#3a3a3a" stroke-width="0.8" fill="none"/>
<line x1="578.50" y1="625.30" x2="578.50" y2="626.90" stroke="#3a3a3a" stroke-width="0.8" />
<line x1="585.00" y1="625.70" x2="585.00" y2="626.90" stroke="#3a3a3a" stroke-width="0.8" />
<line x1="607.00" y1="625.60" x2="607.00" y2="626.90" stroke="#3a3a3a" stroke-width="0.8" />
<line x1="632.00" y1="625.50" x2="632.00" y2="626.90" stroke="#3a3a3a" stroke-width="0.8" />
<line x1="661.00" y1="625.40" x2="661.00" y2="626.90" stroke="#3a3a3a" stroke-width="0.8" />
<line x1="437.00" y1="625.70" x2="437.00" y2="626.90" stroke="#3a3a3a" stroke-width="0.8" />
<line x1="470.00" y1="625.60" x2="470.00" y2="626.90" stroke="#3a3a3a" stroke-width="0.8" />
<line x1="403.00" y1="627.30" x2="667.80" y2="627.30" stroke="#222" stroke-width="1.3" />
<circle cx="68.60" cy="712.70" r="2.1" fill="#7fb0f2" stroke="#2a2a2a" stroke-width="1.1"/>
<text x="82.30" y="716.90" font-size="12.85" text-anchor="start" fill="#1c1c1c" >X23-WT</text>
<circle cx="68.60" cy="735.30" r="2.1" fill="#f79292" stroke="#2a2a2a" stroke-width="1.1"/>
<text x="82.30" y="739.60" font-size="12.85" text-anchor="start" fill="#1c1c1c" >X23(&#916;<tspan font-style="italic">abrB</tspan>)</text>
<circle cx="158.20" cy="713.50" r="2.1" fill="#f0a0e8" stroke="#2a2a2a" stroke-width="1.1"/>
<text x="172.00" y="717.00" font-size="12.85" text-anchor="start" fill="#1c1c1c" >X23(P<tspan font-style="italic" font-size="9.3" dy="3.0">ede</tspan><tspan dy="-3.0">::P</tspan><tspan font-style="italic" font-size="9.3" dy="3.0">mwp</tspan><tspan dy="-3.0">)</tspan></text>
<circle cx="158.20" cy="734.80" r="2.1" fill="#dcdcdc" stroke="#2a2a2a" stroke-width="1.1"/>
<text x="172.00" y="738.20" font-size="12.85" text-anchor="start" fill="#1c1c1c" >X23(&#916;<tspan font-style="italic">abrB</tspan>)::P<tspan font-style="italic" font-size="9.3" dy="3.0">mwp</tspan></text>
<circle cx="278.80" cy="713.20" r="2.1" fill="#2fe02f" stroke="#147a14" stroke-width="1.1"/>
<text x="293.00" y="717.00" font-size="12.85" text-anchor="start" fill="#1c1c1c" >X23(&#916;<tspan font-style="italic">ede</tspan>)</text>
<rect x="74.65" y="848.60" width="11.50" height="44.40" fill="#8ebcf7" stroke="#111" stroke-width="1.2"/>
<rect x="93.48" y="844.60" width="11.50" height="48.40" fill="#ffa2a2" stroke="#111" stroke-width="1.2"/>
<rect x="112.31" y="814.30" width="11.50" height="78.70" fill="#f5a9ec" stroke="#111" stroke-width="1.2"/>
<rect x="131.14" y="809.60" width="11.50" height="83.40" fill="#d4d4d4" stroke="#111" stroke-width="1.2"/>
<rect x="181.70" y="874.20" width="11.50" height="18.80" fill="#8ebcf7" stroke="#111" stroke-width="1.2"/>
<rect x="200.53" y="874.20" width="11.50" height="18.80" fill="#ffa2a2" stroke="#111" stroke-width="1.2"/>
<rect x="219.36" y="874.20" width="11.50" height="18.80" fill="#f5a9ec" stroke="#111" stroke-width="1.2"/>
<rect x="238.19" y="874.20" width="11.50" height="18.80" fill="#d4d4d4" stroke="#111" stroke-width="1.2"/>
<rect x="288.50" y="848.90" width="11.50" height="44.10" fill="#8ebcf7" stroke="#111" stroke-width="1.2"/>
<rect x="307.50" y="845.00" width="11.50" height="48.00" fill="#ffa2a2" stroke="#111" stroke-width="1.2"/>
<rect x="326.50" y="814.00" width="11.50" height="79.00" fill="#f5a9ec" stroke="#111" stroke-width="1.2"/>
<rect x="345.50" y="809.30" width="11.50" height="83.70" fill="#d4d4d4" stroke="#111" stroke-width="1.2"/>
<line x1="67.20" y1="893.00" x2="382.80" y2="893.00" stroke="#1a1a1a" stroke-width="1.4" />
<rect x="71.5" y="850.7" width="300" height="9.0" fill="#fff"/>
<line x1="67.90" y1="794.00" x2="67.90" y2="849.80" stroke="#1a1a1a" stroke-width="1.4" />
<line x1="67.90" y1="859.00" x2="67.90" y2="893.70" stroke="#1a1a1a" stroke-width="1.4" />
<line x1="64.60" y1="848.40" x2="70.60" y2="854.00" stroke="#1a1a1a" stroke-width="1.3" />
<line x1="64.70" y1="856.20" x2="70.60" y2="861.70" stroke="#1a1a1a" stroke-width="1.3" />
<line x1="63.10" y1="794.60" x2="67.90" y2="794.60" stroke="#1a1a1a" stroke-width="1.3" />
<text x="61.40" y="799.00" font-size="12" text-anchor="end" fill="#1c1c1c" >3&#215;10<tspan font-size="8.6" dy="-4.6" dx="1.9">7</tspan></text>
<line x1="63.10" y1="813.60" x2="67.90" y2="813.60" stroke="#1a1a1a" stroke-width="1.3" />
<text x="61.40" y="818.00" font-size="12" text-anchor="end" fill="#1c1c1c" >2&#215;10<tspan font-size="8.6" dy="-4.6" dx="1.9">7</tspan></text>
<line x1="63.10" y1="832.40" x2="67.90" y2="832.40" stroke="#1a1a1a" stroke-width="1.3" />
<text x="61.40" y="836.80" font-size="12" text-anchor="end" fill="#1c1c1c" >1&#215;10<tspan font-size="8.6" dy="-4.6" dx="1.9">7</tspan></text>
<text x="61.40" y="864.10" font-size="12" text-anchor="end" fill="#1c1c1c" >1&#215;10<tspan font-size="8.6" dy="-4.6" dx="1.9">5</tspan></text>
<line x1="63.10" y1="876.30" x2="67.90" y2="876.30" stroke="#1a1a1a" stroke-width="1.3" />
<text x="61.40" y="880.70" font-size="12" text-anchor="end" fill="#1c1c1c" >5&#215;10<tspan font-size="8.6" dy="-4.6" dx="1.9">4</tspan></text>
<line x1="63.10" y1="892.50" x2="67.90" y2="892.50" stroke="#1a1a1a" stroke-width="1.3" />
<text x="60.30" y="896.90" font-size="12" text-anchor="end" fill="#1c1c1c" >0</text>
<text transform="translate(20.00,836.00) rotate(-90)" font-size="13.5" text-anchor="middle" fill="#1c1c1c">Peak Area (mAu)</text>
<line x1="117.50" y1="893.00" x2="117.50" y2="897.90" stroke="#1a1a1a" stroke-width="1.3" />
<text x="117.80" y="910.40" font-size="13.3" text-anchor="middle" fill="#1c1c1c" >edeine A</text>
<line x1="224.80" y1="893.00" x2="224.80" y2="897.90" stroke="#1a1a1a" stroke-width="1.3" />
<text x="225.10" y="910.40" font-size="13.3" text-anchor="middle" fill="#1c1c1c" >edeine B</text>
<line x1="331.80" y1="893.00" x2="331.80" y2="897.90" stroke="#1a1a1a" stroke-width="1.3" />
<text x="332.40" y="910.40" font-size="13.3" text-anchor="middle" fill="#1c1c1c" >Total</text>
<circle cx="76.50" cy="847.00" r="2.35" fill="#8ebcf7" stroke="#111" stroke-width="1.2"/>
<circle cx="80.40" cy="847.00" r="2.35" fill="#8ebcf7" stroke="#111" stroke-width="1.2"/>
<circle cx="84.30" cy="847.00" r="2.35" fill="#8ebcf7" stroke="#111" stroke-width="1.2"/>
<circle cx="95.18" cy="842.90" r="2.35" fill="#ffa2a2" stroke="#111" stroke-width="1.2"/>
<circle cx="99.23" cy="842.10" r="2.35" fill="#ffa2a2" stroke="#111" stroke-width="1.2"/>
<circle cx="103.28" cy="842.90" r="2.35" fill="#ffa2a2" stroke="#111" stroke-width="1.2"/>
<circle cx="114.01" cy="814.90" r="2.35" fill="#f5a9ec" stroke="#111" stroke-width="1.2"/>
<circle cx="118.06" cy="810.80" r="2.35" fill="#f5a9ec" stroke="#111" stroke-width="1.2"/>
<circle cx="122.11" cy="812.80" r="2.35" fill="#f5a9ec" stroke="#111" stroke-width="1.2"/>
<circle cx="132.84" cy="809.20" r="2.35" fill="#f0f0f0" stroke="#111" stroke-width="1.2"/>
<circle cx="136.89" cy="804.70" r="2.35" fill="#f0f0f0" stroke="#111" stroke-width="1.2"/>
<circle cx="140.94" cy="806.90" r="2.35" fill="#f0f0f0" stroke="#111" stroke-width="1.2"/>
<circle cx="183.55" cy="873.60" r="2.35" fill="#8ebcf7" stroke="#111" stroke-width="1.2"/>
<circle cx="187.45" cy="873.60" r="2.35" fill="#8ebcf7" stroke="#111" stroke-width="1.2"/>
<circle cx="191.35" cy="873.60" r="2.35" fill="#8ebcf7" stroke="#111" stroke-width="1.2"/>
<circle cx="202.23" cy="873.80" r="2.35" fill="#ffa2a2" stroke="#111" stroke-width="1.2"/>
<circle cx="206.28" cy="872.00" r="2.35" fill="#ffa2a2" stroke="#111" stroke-width="1.2"/>
<circle cx="210.33" cy="873.80" r="2.35" fill="#ffa2a2" stroke="#111" stroke-width="1.2"/>
<circle cx="221.06" cy="873.80" r="2.35" fill="#f5a9ec" stroke="#111" stroke-width="1.2"/>
<circle cx="225.11" cy="871.00" r="2.35" fill="#f5a9ec" stroke="#111" stroke-width="1.2"/>
<circle cx="229.16" cy="873.80" r="2.35" fill="#f5a9ec" stroke="#111" stroke-width="1.2"/>
<circle cx="239.89" cy="873.80" r="2.35" fill="#f0f0f0" stroke="#111" stroke-width="1.2"/>
<circle cx="243.94" cy="870.50" r="2.35" fill="#f0f0f0" stroke="#111" stroke-width="1.2"/>
<circle cx="247.99" cy="873.80" r="2.35" fill="#f0f0f0" stroke="#111" stroke-width="1.2"/>
<circle cx="290.35" cy="847.00" r="2.35" fill="#8ebcf7" stroke="#111" stroke-width="1.2"/>
<circle cx="294.25" cy="847.00" r="2.35" fill="#8ebcf7" stroke="#111" stroke-width="1.2"/>
<circle cx="298.15" cy="847.00" r="2.35" fill="#8ebcf7" stroke="#111" stroke-width="1.2"/>
<circle cx="309.20" cy="843.60" r="2.35" fill="#ffa2a2" stroke="#111" stroke-width="1.2"/>
<circle cx="313.25" cy="842.00" r="2.35" fill="#ffa2a2" stroke="#111" stroke-width="1.2"/>
<circle cx="317.30" cy="843.30" r="2.35" fill="#ffa2a2" stroke="#111" stroke-width="1.2"/>
<circle cx="328.20" cy="814.40" r="2.35" fill="#f5a9ec" stroke="#111" stroke-width="1.2"/>
<circle cx="332.25" cy="811.00" r="2.35" fill="#f5a9ec" stroke="#111" stroke-width="1.2"/>
<circle cx="336.30" cy="812.70" r="2.35" fill="#f5a9ec" stroke="#111" stroke-width="1.2"/>
<circle cx="347.20" cy="809.00" r="2.35" fill="#f0f0f0" stroke="#111" stroke-width="1.2"/>
<circle cx="351.25" cy="805.00" r="2.35" fill="#f0f0f0" stroke="#111" stroke-width="1.2"/>
<circle cx="355.30" cy="807.00" r="2.35" fill="#f0f0f0" stroke="#111" stroke-width="1.2"/>
<circle cx="152.30" cy="892.70" r="2.35" fill="#25e025" stroke="#0b5a0b" stroke-width="1.15"/>
<circle cx="156.00" cy="892.70" r="2.35" fill="#25e025" stroke="#0b5a0b" stroke-width="1.15"/>
<circle cx="159.70" cy="892.70" r="2.35" fill="#25e025" stroke="#0b5a0b" stroke-width="1.15"/>
<circle cx="259.50" cy="892.70" r="2.35" fill="#25e025" stroke="#0b5a0b" stroke-width="1.15"/>
<circle cx="263.20" cy="892.70" r="2.35" fill="#25e025" stroke="#0b5a0b" stroke-width="1.15"/>
<circle cx="266.90" cy="892.70" r="2.35" fill="#25e025" stroke="#0b5a0b" stroke-width="1.15"/>
<circle cx="366.40" cy="892.70" r="2.35" fill="#25e025" stroke="#0b5a0b" stroke-width="1.15"/>
<circle cx="370.10" cy="892.70" r="2.35" fill="#25e025" stroke="#0b5a0b" stroke-width="1.15"/>
<circle cx="373.80" cy="892.70" r="2.35" fill="#25e025" stroke="#0b5a0b" stroke-width="1.15"/>
<path d="M294.00,755.70 L294.00,749.70 L350.90,749.70 L350.90,755.70" fill="none" stroke="#111" stroke-width="1.45" stroke-linejoin="miter" />
<path d="M307.45,739.90 L306.76,743.25 L308.84,743.25 L308.15,739.90 Z" fill="#111"/>
<path d="M307.62,740.20 L310.18,742.47 L311.22,740.68 L307.98,739.60 Z" fill="#111"/>
<path d="M307.62,739.60 L304.38,740.68 L305.42,742.47 L307.98,740.20 Z" fill="#111"/>
<path d="M307.98,739.60 L305.42,737.33 L304.38,739.12 L307.62,740.20 Z" fill="#111"/>
<path d="M308.15,739.90 L308.84,736.55 L306.76,736.55 L307.45,739.90 Z" fill="#111"/>
<path d="M307.98,740.20 L311.22,739.12 L310.18,737.33 L307.62,739.60 Z" fill="#111"/>
<circle cx="307.80" cy="739.90" r="0.9" fill="#111"/>
<path d="M316.35,739.90 L315.66,743.25 L317.74,743.25 L317.05,739.90 Z" fill="#111"/>
<path d="M316.52,740.20 L319.08,742.47 L320.12,740.68 L316.88,739.60 Z" fill="#111"/>
<path d="M316.52,739.60 L313.28,740.68 L314.32,742.47 L316.88,740.20 Z" fill="#111"/>
<path d="M316.88,739.60 L314.32,737.33 L313.28,739.12 L316.52,740.20 Z" fill="#111"/>
<path d="M317.05,739.90 L317.74,736.55 L315.66,736.55 L316.35,739.90 Z" fill="#111"/>
<path d="M316.88,740.20 L320.12,739.12 L319.08,737.33 L316.52,739.60 Z" fill="#111"/>
<circle cx="316.70" cy="739.90" r="0.9" fill="#111"/>
<path d="M325.15,739.90 L324.46,743.25 L326.54,743.25 L325.85,739.90 Z" fill="#111"/>
<path d="M325.32,740.20 L327.88,742.47 L328.92,740.68 L325.68,739.60 Z" fill="#111"/>
<path d="M325.32,739.60 L322.08,740.68 L323.12,742.47 L325.68,740.20 Z" fill="#111"/>
<path d="M325.68,739.60 L323.12,737.33 L322.08,739.12 L325.32,740.20 Z" fill="#111"/>
<path d="M325.85,739.90 L326.54,736.55 L324.46,736.55 L325.15,739.90 Z" fill="#111"/>
<path d="M325.68,740.20 L328.92,739.12 L327.88,737.33 L325.32,739.60 Z" fill="#111"/>
<circle cx="325.50" cy="739.90" r="0.9" fill="#111"/>
<path d="M333.95,739.90 L333.26,743.25 L335.34,743.25 L334.65,739.90 Z" fill="#111"/>
<path d="M334.12,740.20 L336.68,742.47 L337.72,740.68 L334.48,739.60 Z" fill="#111"/>
<path d="M334.12,739.60 L330.88,740.68 L331.92,742.47 L334.48,740.20 Z" fill="#111"/>
<path d="M334.48,739.60 L331.92,737.33 L330.88,739.12 L334.12,740.20 Z" fill="#111"/>
<path d="M334.65,739.90 L335.34,736.55 L333.26,736.55 L333.95,739.90 Z" fill="#111"/>
<path d="M334.48,740.20 L337.72,739.12 L336.68,737.33 L334.12,739.60 Z" fill="#111"/>
<circle cx="334.30" cy="739.90" r="0.9" fill="#111"/>
<path d="M331.70,787.60 L331.70,781.90 L350.90,781.90 L350.90,787.60" fill="none" stroke="#111" stroke-width="1.45" stroke-linejoin="miter" />
<path d="M335.85,772.10 L335.16,775.45 L337.24,775.45 L336.55,772.10 Z" fill="#111"/>
<path d="M336.02,772.40 L338.58,774.67 L339.62,772.88 L336.38,771.80 Z" fill="#111"/>
<path d="M336.02,771.80 L332.78,772.88 L333.82,774.67 L336.38,772.40 Z" fill="#111"/>
<path d="M336.38,771.80 L333.82,769.53 L332.78,771.32 L336.02,772.40 Z" fill="#111"/>
<path d="M336.55,772.10 L337.24,768.75 L335.16,768.75 L335.85,772.10 Z" fill="#111"/>
<path d="M336.38,772.40 L339.62,771.32 L338.58,769.53 L336.02,771.80 Z" fill="#111"/>
<circle cx="336.20" cy="772.10" r="0.9" fill="#111"/>
<path d="M344.55,772.10 L343.86,775.45 L345.94,775.45 L345.25,772.10 Z" fill="#111"/>
<path d="M344.72,772.40 L347.28,774.67 L348.32,772.88 L345.07,771.80 Z" fill="#111"/>
<path d="M344.72,771.80 L341.48,772.88 L342.52,774.67 L345.07,772.40 Z" fill="#111"/>
<path d="M345.07,771.80 L342.52,769.53 L341.48,771.32 L344.72,772.40 Z" fill="#111"/>
<path d="M345.25,772.10 L345.94,768.75 L343.86,768.75 L344.55,772.10 Z" fill="#111"/>
<path d="M345.07,772.40 L348.32,771.32 L347.28,769.53 L344.72,771.80 Z" fill="#111"/>
<circle cx="344.90" cy="772.10" r="0.9" fill="#111"/>
<path d="M293.50,826.70 L293.50,821.40 L313.10,821.40 L313.10,826.70" fill="none" stroke="#111" stroke-width="1.45" stroke-linejoin="miter" />
<path d="M302.85,811.80 L302.16,815.15 L304.24,815.15 L303.55,811.80 Z" fill="#111"/>
<path d="M303.02,812.10 L305.58,814.37 L306.62,812.58 L303.38,811.50 Z" fill="#111"/>
<path d="M303.02,811.50 L299.78,812.58 L300.82,814.37 L303.38,812.10 Z" fill="#111"/>
<path d="M303.38,811.50 L300.82,809.23 L299.78,811.02 L303.02,812.10 Z" fill="#111"/>
<path d="M303.55,811.80 L304.24,808.45 L302.16,808.45 L302.85,811.80 Z" fill="#111"/>
<path d="M303.38,812.10 L306.62,811.02 L305.58,809.23 L303.02,811.50 Z" fill="#111"/>
<circle cx="303.20" cy="811.80" r="0.9" fill="#111"/>
<rect x="330.40" y="757.10" width="40.00" height="9.60" rx="1.6" fill="#f97c7c"/>
<text x="367.40" y="765.30" font-size="8.4" text-anchor="end" fill="#741212" textLength="30" lengthAdjust="spacingAndGlyphs">1006.6%</text>
<rect x="340.60" y="789.30" width="24.00" height="8.80" rx="1.6" fill="#f97c7c"/>
<text x="363.00" y="797.00" font-size="8.4" text-anchor="end" fill="#741212" textLength="20.8" lengthAdjust="spacingAndGlyphs">15.2%</text>
<text x="318.60" y="805.50" font-size="8.4" text-anchor="start" fill="#262626" textLength="26" lengthAdjust="spacingAndGlyphs">863.4%</text>
<text x="299.70" y="836.40" font-size="8.4" text-anchor="start" fill="#262626" textLength="26" lengthAdjust="spacingAndGlyphs">106.6%</text>
<line x1="452.60" y1="704.70" x2="452.60" y2="870.70" stroke="#333" stroke-width="1.1" />
<line x1="452.10" y1="870.20" x2="658.70" y2="870.20" stroke="#333" stroke-width="1.1" />
<line x1="449.40" y1="705.10" x2="452.60" y2="705.10" stroke="#333" stroke-width="1.1" />
<text x="439.80" y="709.10" font-size="11.2" text-anchor="end" fill="#262626" >300.0</text>
<line x1="449.40" y1="732.62" x2="452.60" y2="732.62" stroke="#333" stroke-width="1.1" />
<text x="439.80" y="736.62" font-size="11.2" text-anchor="end" fill="#262626" >250.0</text>
<line x1="449.40" y1="760.14" x2="452.60" y2="760.14" stroke="#333" stroke-width="1.1" />
<text x="439.80" y="764.14" font-size="11.2" text-anchor="end" fill="#262626" >200.0</text>
<line x1="449.40" y1="787.66" x2="452.60" y2="787.66" stroke="#333" stroke-width="1.1" />
<text x="439.80" y="791.66" font-size="11.2" text-anchor="end" fill="#262626" >150.0</text>
<line x1="449.40" y1="815.18" x2="452.60" y2="815.18" stroke="#333" stroke-width="1.1" />
<text x="439.80" y="819.18" font-size="11.2" text-anchor="end" fill="#262626" >100.0</text>
<line x1="449.40" y1="842.70" x2="452.60" y2="842.70" stroke="#333" stroke-width="1.1" />
<text x="439.80" y="846.70" font-size="11.2" text-anchor="end" fill="#262626" >50.0</text>
<line x1="449.40" y1="870.22" x2="452.60" y2="870.22" stroke="#333" stroke-width="1.1" />
<text x="439.80" y="874.22" font-size="11.2" text-anchor="end" fill="#262626" >0.0</text>
<line x1="452.60" y1="870.20" x2="452.60" y2="873.40" stroke="#333" stroke-width="1.1" />
<text x="451.40" y="887.30" font-size="11.2" text-anchor="middle" fill="#262626" >0</text>
<line x1="521.60" y1="870.20" x2="521.60" y2="873.40" stroke="#333" stroke-width="1.1" />
<text x="519.80" y="887.30" font-size="11.2" text-anchor="middle" fill="#262626" >30,000,000</text>
<line x1="590.00" y1="870.20" x2="590.00" y2="873.40" stroke="#333" stroke-width="1.1" />
<text x="588.20" y="887.30" font-size="11.2" text-anchor="middle" fill="#262626" >60,000,000</text>
<line x1="658.20" y1="870.20" x2="658.20" y2="873.40" stroke="#333" stroke-width="1.1" />
<text x="656.40" y="887.30" font-size="11.2" text-anchor="middle" fill="#262626" >90,000,000</text>
<text transform="translate(397.60,785.90) rotate(-90)" font-size="11.45" text-anchor="middle" fill="#262626">Concentration of edeine&#160;&#160;(&#956;g/mL)</text>
<text x="566.30" y="906.10" font-size="11.6" text-anchor="middle" fill="#262626" >Peak area of edeine</text>
<line x1="457.40" y1="870.40" x2="641.80" y2="727.00" stroke="#222" stroke-width="1.2" />
<circle cx="453.10" cy="869.70" r="1.9" fill="#4472c4"/>
<circle cx="458.40" cy="866.60" r="1.9" fill="#4472c4"/>
<circle cx="462.80" cy="865.40" r="1.9" fill="#4472c4"/>
<circle cx="469.60" cy="860.70" r="1.9" fill="#4472c4"/>
<circle cx="488.90" cy="851.00" r="1.9" fill="#4472c4"/>
<circle cx="513.50" cy="831.70" r="1.9" fill="#4472c4"/>
<circle cx="641.20" cy="724.10" r="1.9" fill="#4472c4"/>
<text x="575.60" y="728.50" font-size="11.2" text-anchor="start" fill="#262626" >R&#178; = 0.9945</text>
</svg>
</body></html>
